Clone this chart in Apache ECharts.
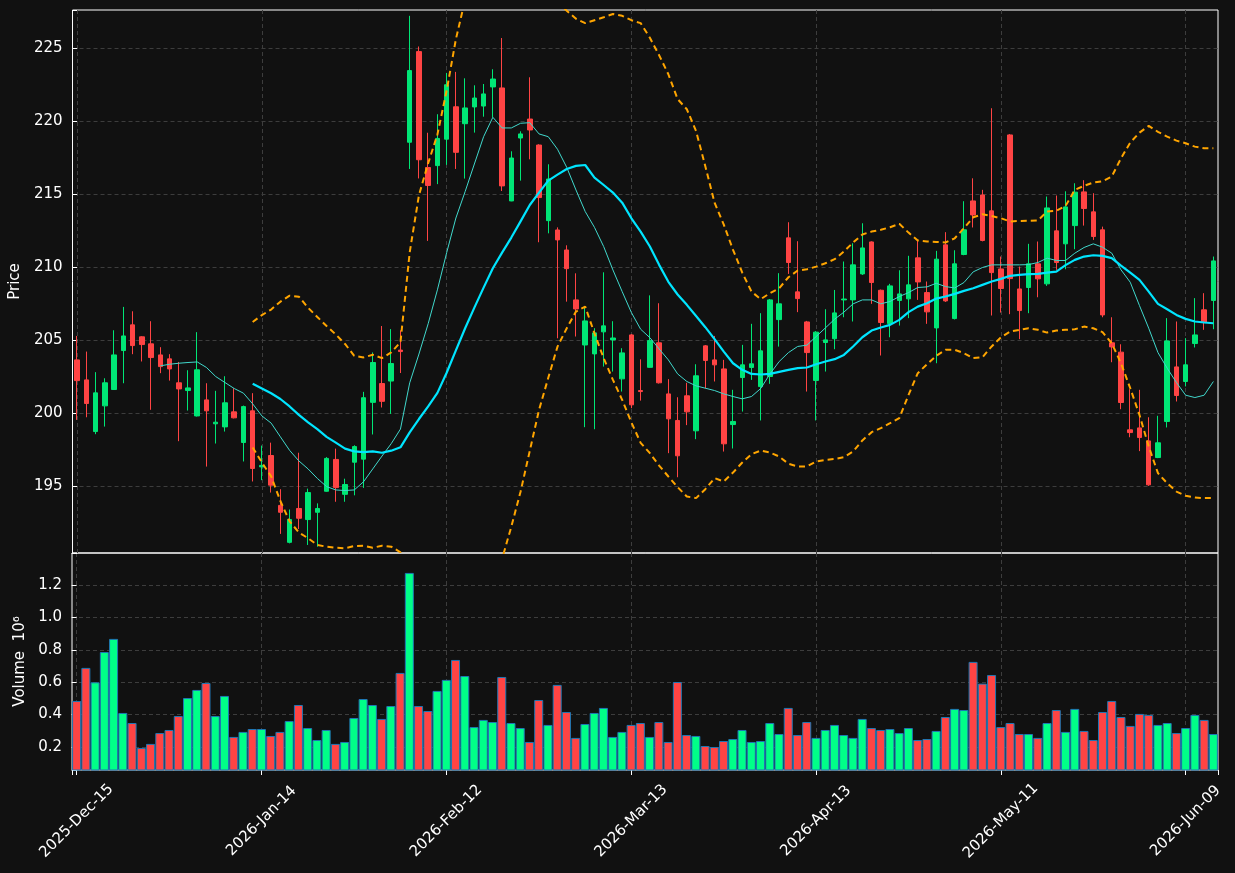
<!DOCTYPE html>
<html>
<head>
<meta charset="utf-8">
<script src="https://cdn.jsdelivr.net/npm/echarts@6/dist/echarts.min.js"></script>
<style>
  html, body { margin: 0; padding: 0; background: #111111; }
  #chart { width: 1235px; height: 873px; }
</style>
</head>
<body>
<div id="chart"></div>
<script>
// tick labels of the date axis (one every 20 sessions)
var tickLabels = ['2025-Dec-15', '2026-Jan-14', '2026-Feb-12', '2026-Mar-13', '2026-Apr-13', '2026-May-11', '2026-Jun-09'];

// daily prices
var opens = [203.63, 202.26, 198.72, 200.48, 201.60, 204.27, 206.03, 205.21, 204.73, 203.97,
  203.70, 202.06, 201.53, 199.79, 200.89, 199.25, 199.04, 200.07, 197.97, 200.14,
  196.30, 197.08, 193.66, 191.13, 193.45, 192.69, 193.19, 194.63, 196.81, 194.42,
  196.62, 196.83, 200.72, 202.01, 202.18, 204.30, 218.54, 224.75, 216.81, 216.94,
  218.75, 220.97, 219.81, 220.96, 221.02, 222.33, 222.26, 214.52, 218.83, 220.13,
  218.35, 213.17, 212.53, 211.16, 207.74, 204.65, 204.04, 205.55, 205.00, 202.33,
  205.34, 201.53, 203.12, 204.80, 201.30, 199.48, 201.17, 198.77, 204.59, 203.63,
  203.01, 199.20, 202.42, 203.11, 201.80, 202.49, 206.39, 211.99, 208.29, 206.23,
  202.22, 204.82, 205.08, 207.74, 207.74, 209.52, 211.71, 208.40, 206.12, 207.70,
  207.81, 210.62, 208.24, 205.82, 211.51, 206.46, 210.85, 214.52, 214.93, 213.84,
  209.86, 219.04, 208.49, 208.59, 210.21, 208.84, 212.47, 211.58, 212.83, 215.14,
  213.77, 212.54, 204.80, 204.16, 198.84, 198.97, 198.08, 196.94, 199.41, 203.15,
  202.15, 204.75, 207.06, 207.70];
var highs = [205.27, 204.20, 202.79, 202.37, 205.66, 207.26, 206.96, 205.25, 206.28, 204.50,
  204.02, 203.49, 202.92, 205.53, 202.03, 201.51, 202.51, 201.69, 200.50, 201.35,
  197.76, 197.96, 194.77, 193.38, 197.27, 194.81, 193.80, 196.97, 197.55, 195.49,
  197.78, 201.44, 204.14, 205.95, 205.74, 205.65, 227.20, 225.10, 219.19, 220.46,
  223.29, 223.36, 222.92, 222.44, 222.53, 223.54, 225.68, 217.92, 219.29, 222.99,
  218.40, 217.03, 212.71, 211.48, 209.56, 207.28, 205.80, 209.63, 206.28, 204.43,
  205.40, 203.67, 208.05, 207.51, 202.31, 201.07, 202.06, 203.33, 204.65, 205.27,
  203.63, 201.58, 204.66, 206.10, 206.83, 207.80, 209.57, 213.06, 211.76, 206.30,
  205.60, 207.10, 208.42, 210.37, 211.62, 212.99, 211.75, 208.45, 208.84, 209.77,
  210.76, 211.85, 209.00, 211.10, 212.38, 211.14, 214.50, 216.07, 215.28, 220.87,
  210.71, 219.10, 210.02, 211.58, 211.74, 214.82, 214.89, 215.18, 215.73, 215.94,
  215.05, 212.76, 206.55, 204.70, 201.62, 201.58, 199.70, 199.80, 206.49, 206.26,
  205.12, 207.86, 208.20, 210.71];
var lows = [199.52, 199.70, 198.54, 199.06, 201.58, 202.03, 204.02, 203.52, 200.21, 202.72,
  202.21, 198.06, 200.16, 199.75, 196.32, 197.90, 198.72, 199.62, 196.67, 195.30,
  195.39, 194.54, 191.71, 191.06, 192.04, 190.95, 190.83, 194.60, 193.91, 193.91,
  194.35, 194.86, 198.52, 200.37, 199.93, 202.73, 216.71, 216.06, 211.78, 215.67,
  216.99, 216.71, 216.05, 219.20, 220.29, 220.25, 215.20, 214.50, 215.91, 217.37,
  211.69, 212.30, 205.11, 207.62, 205.23, 199.02, 198.88, 203.17, 202.83, 201.46,
  200.32, 200.84, 203.10, 202.01, 197.24, 195.59, 199.16, 198.20, 201.67, 202.15,
  197.35, 197.56, 200.09, 202.26, 199.48, 201.99, 204.54, 209.52, 206.90, 201.46,
  199.48, 202.83, 204.36, 206.55, 206.26, 209.45, 207.47, 203.93, 205.18, 205.98,
  206.49, 207.74, 206.10, 203.40, 207.60, 206.40, 210.80, 212.70, 211.75, 206.67,
  206.87, 206.76, 205.05, 206.83, 207.92, 208.70, 209.80, 209.84, 211.21, 212.83,
  211.85, 206.55, 203.47, 200.25, 198.33, 197.38, 195.00, 196.90, 199.00, 200.78,
  201.81, 204.48, 205.69, 205.73];
var closes = [202.21, 200.64, 201.37, 202.06, 203.97, 205.27, 204.61, 204.68, 203.79, 203.17,
  203.01, 201.64, 201.71, 202.95, 200.14, 199.36, 200.69, 199.66, 200.43, 196.19,
  196.40, 195.05, 193.19, 192.69, 192.78, 194.54, 193.45, 196.88, 194.88, 195.09,
  197.69, 201.04, 203.45, 200.79, 203.38, 204.20, 223.45, 217.34, 215.58, 218.80,
  222.48, 217.85, 220.89, 221.57, 221.85, 222.87, 215.55, 217.46, 219.11, 219.38,
  214.75, 216.02, 211.85, 209.88, 207.12, 206.30, 205.48, 205.96, 205.13, 204.11,
  200.55, 201.46, 204.95, 202.06, 199.59, 197.06, 200.07, 202.54, 203.59, 203.29,
  197.88, 199.41, 203.29, 203.36, 204.25, 207.74, 207.47, 210.30, 207.83, 204.13,
  205.53, 205.00, 206.85, 207.80, 210.14, 211.30, 208.93, 206.19, 208.70, 208.15,
  208.77, 208.97, 206.92, 210.53, 207.67, 210.21, 212.54, 213.56, 211.81, 209.61,
  208.52, 209.20, 207.01, 210.21, 209.18, 214.04, 210.30, 214.11, 215.12, 214.00,
  212.08, 206.71, 204.52, 200.71, 198.65, 198.31, 195.07, 197.95, 204.93, 201.19,
  203.29, 205.34, 206.19, 210.41];

// volume, in millions
var volumes = [0.484, 0.688, 0.599, 0.786, 0.867, 0.410, 0.348, 0.194, 0.219, 0.286,
  0.305, 0.391, 0.502, 0.552, 0.595, 0.391, 0.515, 0.262, 0.293, 0.311,
  0.311, 0.268, 0.293, 0.360, 0.459, 0.317, 0.243, 0.305, 0.219, 0.231,
  0.379, 0.496, 0.459, 0.373, 0.453, 0.657, 1.274, 0.453, 0.422, 0.546,
  0.614, 0.737, 0.638, 0.323, 0.367, 0.354, 0.632, 0.348, 0.317, 0.231,
  0.490, 0.336, 0.583, 0.416, 0.256, 0.342, 0.410, 0.441, 0.262, 0.293,
  0.336, 0.348, 0.262, 0.354, 0.231, 0.601, 0.274, 0.268, 0.206, 0.200,
  0.237, 0.249, 0.305, 0.231, 0.237, 0.348, 0.280, 0.441, 0.274, 0.354,
  0.256, 0.305, 0.336, 0.274, 0.256, 0.373, 0.317, 0.305, 0.311, 0.286,
  0.317, 0.243, 0.249, 0.299, 0.385, 0.435, 0.428, 0.725, 0.591, 0.644,
  0.323, 0.348, 0.280, 0.280, 0.256, 0.348, 0.428, 0.293, 0.435, 0.299,
  0.243, 0.416, 0.484, 0.385, 0.330, 0.404, 0.398, 0.336, 0.348, 0.286,
  0.317, 0.398, 0.367, 0.280];

// indicator lines (null where not drawn)
var ma10 = [null, null, null, null, null, null, null, null, null, 203.22,
  203.33, 203.40, 203.45, 203.49, 203.11, 202.49, 202.08, 201.67, 201.35, 200.62,
  199.79, 199.30, 198.36, 197.43, 196.71, 196.16, 195.51, 194.95, 194.72, 194.68,
  194.72, 195.28, 196.16, 197.04, 197.89, 198.89, 202.06, 204.03, 206.11, 208.43,
  210.97, 213.35, 215.16, 217.05, 218.92, 220.25, 219.52, 219.52, 219.84, 219.88,
  219.11, 218.92, 218.06, 216.82, 215.27, 213.79, 212.71, 211.39, 209.79, 208.31,
  206.87, 205.73, 205.15, 204.38, 203.63, 202.67, 202.15, 201.85, 201.69, 201.53,
  201.30, 201.12, 200.96, 201.12, 201.67, 202.67, 203.52, 204.13, 204.55, 204.64,
  205.23, 205.82, 206.42, 206.90, 207.47, 207.74, 207.74, 207.47, 207.63, 207.97,
  208.24, 208.59, 208.63, 208.88, 208.65, 208.56, 208.93, 209.66, 209.96, 210.14,
  210.14, 210.14, 210.14, 210.16, 210.30, 210.60, 210.44, 210.44, 210.94, 211.33,
  211.58, 211.35, 210.94, 209.80, 208.95, 207.35, 205.80, 204.13, 203.06, 202.08,
  201.21, 201.05, 201.21, 202.15];
var ma20 = [null, null, null, null, null, null, null, null, null, null,
  null, null, null, null, null, null, null, null, null, 201.99,
  201.67, 201.34, 200.95, 200.44, 199.86, 199.35, 198.89, 198.36, 197.96, 197.55,
  197.36, 197.31, 197.36, 197.27, 197.41, 197.64, 198.66, 199.58, 200.44, 201.37,
  202.75, 204.28, 205.80, 207.21, 208.58, 209.91, 210.98, 212.01, 213.12, 214.24,
  215.09, 215.91, 216.32, 216.71, 216.92, 216.98, 216.12, 215.61, 215.09, 214.40,
  213.33, 212.42, 211.40, 210.14, 208.98, 208.11, 207.40, 206.64, 205.87, 205.05,
  204.20, 203.40, 202.95, 202.67, 202.63, 202.67, 202.81, 202.95, 203.06, 203.11,
  203.33, 203.52, 203.68, 203.97, 204.55, 205.18, 205.64, 205.85, 206.03, 206.37,
  206.90, 207.28, 207.51, 207.83, 207.97, 208.15, 208.36, 208.54, 208.77, 209.00,
  209.18, 209.39, 209.45, 209.50, 209.52, 209.61, 209.68, 210.12, 210.48, 210.71,
  210.80, 210.76, 210.60, 210.09, 209.61, 209.11, 208.31, 207.47, 207.10, 206.71,
  206.44, 206.26, 206.19, 206.14];
var bbUpper = [null, null, null, null, null, null, null, null, null, null,
  null, null, null, null, null, null, null, null, null, 206.23,
  206.70, 207.08, 207.62, 208.03, 207.96, 207.20, 206.57, 205.95, 205.37, 204.72,
  203.91, 203.80, 203.98, 203.75, 204.14, 204.84, 211.00, 214.91, 217.11, 219.07,
  222.08, 225.60, 228.30, 230.00, 231.30, 232.20, 232.60, 232.30, 231.80, 231.00,
  229.90, 229.10, 228.10, 227.55, 227.00, 226.70, 226.90, 227.10, 227.33, 227.20,
  226.90, 226.70, 225.70, 224.50, 223.20, 221.50, 220.80, 219.30, 216.90, 214.40,
  212.90, 211.17, 209.61, 208.31, 207.79, 208.20, 208.54, 209.29, 209.75, 209.84,
  210.02, 210.25, 210.53, 211.05, 211.67, 212.22, 212.42, 212.54, 212.72, 212.95,
  212.35, 211.81, 211.74, 211.71, 211.67, 211.96, 212.65, 213.40, 213.61, 213.49,
  213.33, 213.11, 213.15, 213.16, 213.18, 213.79, 213.84, 214.18, 215.28, 215.55,
  215.78, 215.87, 216.19, 217.44, 218.52, 219.20, 219.66, 219.25, 218.93, 218.65,
  218.47, 218.24, 218.13, 218.13];
var bbLower = [null, null, null, null, null, null, null, null, null, null,
  null, null, null, null, null, null, null, null, null, 197.63,
  196.60, 195.65, 193.96, 192.57, 191.81, 191.41, 190.95, 190.83, 190.76, 190.72,
  190.88, 190.90, 190.76, 190.90, 190.83, 190.45, 186.10, 184.30, 183.80, 183.70,
  183.40, 183.00, 183.30, 184.40, 185.90, 187.80, 190.00, 192.20, 194.60, 197.40,
  200.20, 202.40, 204.54, 205.80, 206.94, 207.28, 205.45, 203.74, 202.26, 200.89,
  199.34, 197.95, 197.24, 196.39, 195.64, 194.91, 194.27, 194.16, 194.77, 195.53,
  195.30, 195.91, 196.60, 197.17, 197.42, 197.28, 197.01, 196.51, 196.33, 196.33,
  196.67, 196.78, 196.84, 196.97, 197.35, 198.11, 198.68, 198.95, 199.29, 199.64,
  201.23, 202.72, 203.33, 203.91, 204.32, 204.32, 204.09, 203.75, 203.81, 204.55,
  205.18, 205.57, 205.69, 205.79, 205.69, 205.50, 205.64, 205.69, 205.73, 205.91,
  205.80, 205.53, 204.77, 203.40, 201.69, 199.86, 197.70, 195.87, 195.18, 194.61,
  194.32, 194.20, 194.16, 194.16];

var upColor = '#00e676', downColor = '#ff4444';
var volUp = '#00ff88', volDown = '#ff4444';
var textColor = '#ffffff';
var gridLine = {
    show: true, showMinLine: false, showMaxLine: false,
    lineStyle: { color: '#3d3d3d', type: [4, 3], width: 1 }
};

function pairs(arr) {
    return arr.map(function (v, i) { return [i, v]; })
              .filter(function (p) { return p[1] !== null; });
}

function isStep(v, step) {
    var k = v / step;
    return Math.abs(k - Math.round(k)) < 1e-6;
}

var candles = closes.map(function (c, i) {
    return [i, opens[i], c, lows[i], highs[i]];
});
var volData = volumes.map(function (v, i) {
    return {
        value: [i, v],
        itemStyle: { color: closes[i] >= opens[i] ? volUp : volDown }
    };
});

var myChart = echarts.init(document.getElementById('chart'));
var option = {
    backgroundColor: '#111111',
    animation: false,
    textStyle: { fontFamily: 'DejaVu Sans' },
    grid: [
        { left: 72, right: 17, top: 10, height: 543, show: true, borderColor: '#ffffff', borderWidth: 1 },
        { left: 72, right: 17, top: 553, height: 217, show: true, borderColor: '#ffffff', borderWidth: 1 }
    ],
    xAxis: [{
        type: 'value', gridIndex: 0, min: -0.5, max: 123.5, splitNumber: 6,
        axisLine: { show: false }, axisTick: { show: false }, axisLabel: { show: false },
        splitLine: gridLine
    }, {
        type: 'value', gridIndex: 1, min: -0.5, max: 123.5, splitNumber: 6,
        axisLine: { show: false },
        axisTick: { show: true, length: 5, lineStyle: { color: '#ffffff' } },
        axisLabel: {
            color: textColor, fontSize: 15, rotate: 45, align: 'center', verticalAlign: 'middle', margin: 51,
            formatter: function (v) { return isStep(v, 20) ? (tickLabels[Math.round(v / 20)] || '') : ''; }
        },
        splitLine: gridLine
    }],
    yAxis: [{
        type: 'value', gridIndex: 0, min: 190.4, max: 227.6, splitNumber: 7,
        name: 'Price', nameLocation: 'middle', nameGap: 44,
        nameTextStyle: { color: textColor, fontSize: 15 },
        axisLine: { show: false },
        axisTick: { show: true, length: 5, lineStyle: { color: '#ffffff' } },
        axisLabel: {
            color: textColor, fontSize: 15, margin: 10,
            formatter: function (v) { return isStep(v, 5) ? String(Math.round(v)) : ''; }
        },
        splitLine: gridLine
    }, {
        type: 'value', gridIndex: 1, min: 0.058, max: 1.397, splitNumber: 6,
        name: 'Volume  10\u2076', nameLocation: 'middle', nameGap: 43,
        nameTextStyle: { color: textColor, fontSize: 15 },
        axisLine: { show: false },
        axisTick: { show: true, length: 5, lineStyle: { color: '#ffffff' } },
        axisLabel: {
            color: textColor, fontSize: 15, margin: 10,
            formatter: function (v) { return isStep(v, 0.2) ? v.toFixed(1) : ''; }
        },
        splitLine: gridLine
    }],
    series: [{
        type: 'candlestick', xAxisIndex: 0, yAxisIndex: 0,
        data: candles,
        encode: { x: 0, y: [1, 2, 3, 4] },
        barWidth: 5,
        itemStyle: {
            color: upColor, color0: downColor,
            borderColor: upColor, borderColor0: downColor, borderWidth: 1
        }
    }, {
        type: 'line', xAxisIndex: 0, yAxisIndex: 0, data: pairs(ma10),
        symbol: 'none', lineStyle: { color: '#40d8cc', width: 1 }
    }, {
        type: 'line', xAxisIndex: 0, yAxisIndex: 0, data: pairs(ma20),
        symbol: 'none', lineStyle: { color: '#00e5ff', width: 2.2 }
    }, {
        type: 'line', xAxisIndex: 0, yAxisIndex: 0, data: pairs(bbUpper),
        symbol: 'none', lineStyle: { color: '#ffa500', width: 2, type: [6, 4] }
    }, {
        type: 'line', xAxisIndex: 0, yAxisIndex: 0, data: pairs(bbLower),
        symbol: 'none', lineStyle: { color: '#ffa500', width: 2, type: [6, 4] }
    }, {
        type: 'bar', xAxisIndex: 1, yAxisIndex: 1,
        data: volData,
        barWidth: 9,
        itemStyle: { borderColor: '#1f77b4', borderWidth: 1 }
    }]
};
myChart.setOption(option);
</script>
</body>
</html>
